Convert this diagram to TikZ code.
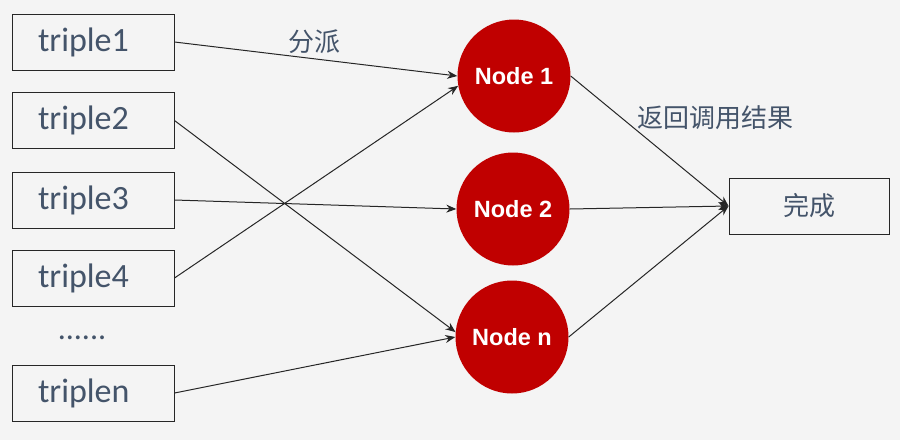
\documentclass[tikz,border=0pt]{standalone}
\usepackage{fontspec}
\setmainfont{Carlito}
\newfontfamily\cjk{Noto Sans CJK SC}
\newfontfamily\arialb{Liberation Sans}
\usetikzlibrary{arrows.meta}
\definecolor{txt}{HTML}{44546A}
\definecolor{nred}{HTML}{C00000}
\definecolor{bg}{HTML}{F4F4F4}
\definecolor{ln}{HTML}{262626}
\tikzset{
  tbox/.style={draw=ln, line width=1pt, minimum width=162pt, minimum height=56pt,
    inner xsep=0pt, text width=110pt, align=left, font=\fontsize{34}{38}\selectfont, text=txt},
  worker/.style={circle, fill=nred, minimum size=113pt, inner sep=0pt, text=white,
    font=\arialb\bfseries\fontsize{23.5}{26}\selectfont},
  conn/.style={draw=ln, line width=1pt, -{Stealth[length=10pt,width=8pt]}},
  lab/.style={text=txt, font=\cjk\fontsize{26}{30}\selectfont, inner sep=0pt}
}
\begin{document}
\begin{tikzpicture}[x=1pt,y=-1pt]
\fill[bg] (0,0) rectangle (900,440);
\useasboundingbox (0,0) rectangle (900,440);
\node[tbox] (t1) at (93,42) {triple1};
\node[tbox] (t2) at (93,120.5) {triple2};
\node[tbox] (t3) at (93,200) {triple3};
\node[tbox] (t4) at (93,278) {triple4};
\node[tbox] (tn) at (93,393) {triplen};
\node[text=txt, font=\fontsize{32}{36}\selectfont, inner sep=0pt] (dots) at (82,338) {......};
\node[worker] (n1) at (514,76) {Node 1};
\node[worker] (n2) at (513,209) {Node 2};
\node[worker] (nn) at (512,337) {Node n};
\node[draw=ln, line width=1pt, minimum width=160pt, minimum height=56pt, text=txt,
  font=\cjk\fontsize{26}{30}\selectfont] (done) at (809,206) {完成};
\node[lab] (l1) at (314,42) {分派};
\node[lab] (l2) at (715,118) {返回调用结果};
\draw[conn] (t1.east) -- (n1.west);
\draw[conn] (t4.east) -- (n1.190);
\draw[conn] (t3.east) -- (n2.west);
\draw[conn] (t2.east) -- (nn.175);
\draw[conn] (tn.east) -- (nn.west);
\draw[conn] (n1.east) -- (done.west);
\draw[conn] (n2.east) -- (done.west);
\draw[conn] (nn.east) -- (done.west);
\end{tikzpicture}
\end{document}
